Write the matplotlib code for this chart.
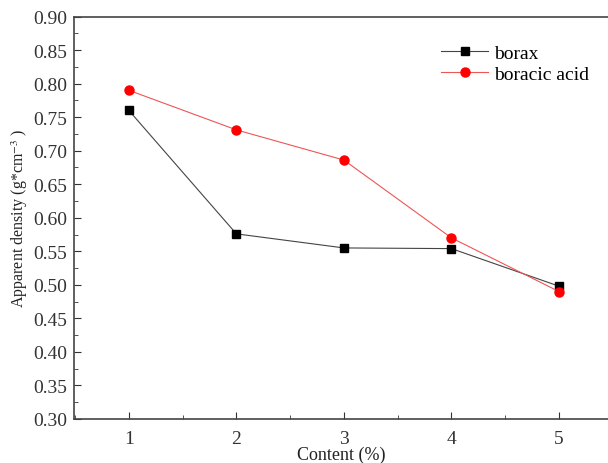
import matplotlib.pyplot as plt
from matplotlib.ticker import MultipleLocator

# data
content = [1, 2, 3, 4, 5]
borax = [0.760, 0.576, 0.555, 0.554, 0.498]
boracic_acid = [0.790, 0.731, 0.686, 0.570, 0.490]

plt.rcParams['font.family'] = ['Liberation Serif', 'DejaVu Serif']
plt.rcParams['mathtext.fontset'] = 'stix'

fig = plt.figure(figsize=(6.08, 4.64), dpi=100)
ax = fig.add_axes([74/608, 44/464, (608-74)/608, (420-17.5)/464])

ax.plot(content, borax, '-s', color='#444444', lw=0.8, ms=6,
        mfc='black', mec='black', label='borax')
ax.plot(content, boracic_acid, '-o', color='#ee5555', lw=0.8, ms=6.5,
        mfc='red', mec='red', label='boracic acid')

ax.set_xlim(0.49, 5.456)
ax.set_ylim(0.30, 0.90)
ax.xaxis.set_major_locator(MultipleLocator(1))
ax.xaxis.set_minor_locator(MultipleLocator(0.5))
ax.yaxis.set_major_locator(MultipleLocator(0.05))
ax.yaxis.set_minor_locator(MultipleLocator(0.025))
ax.yaxis.set_major_formatter(plt.FormatStrFormatter('%.2f'))
ax.tick_params(which='both', direction='in', labelsize=14, colors='#333333')
ax.tick_params(which='major', length=5, pad=5)
ax.tick_params(axis='x', which='major', pad=8)
ax.tick_params(which='minor', length=3)
ax.spines['right'].set_visible(False)
for s in ['left', 'bottom', 'top']:
    ax.spines[s].set_color('#444444')
    ax.spines[s].set_linewidth(1.2)

ax.set_xlabel('Content (%)', fontsize=13, labelpad=-1, color='#222222')
ax.set_ylabel('Apparent density (g*cm$^{-3}$ )', fontsize=11.5, labelpad=2, color='#222222')

ax.legend(loc='upper left', bbox_to_anchor=(0.655, 0.975), frameon=False,
          fontsize=14, handlelength=2.4, handletextpad=0.3, labelspacing=0.2)

fig.savefig('out.png', dpi=100)
